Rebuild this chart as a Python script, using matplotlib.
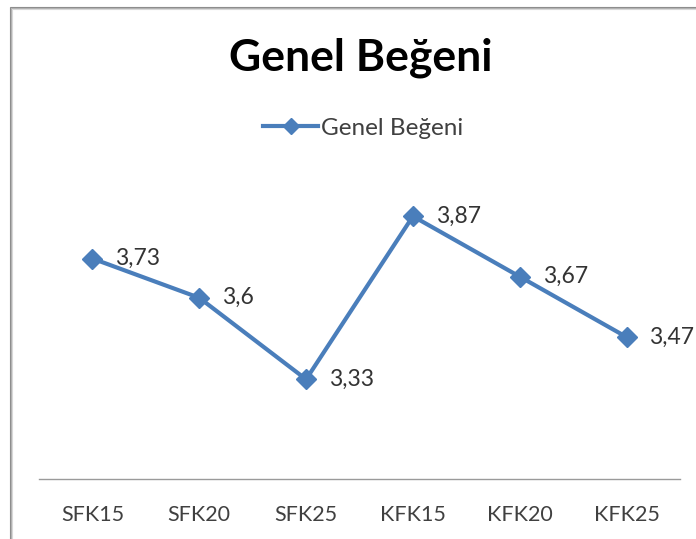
import matplotlib
matplotlib.use("Agg")
import matplotlib.pyplot as plt
from matplotlib.patches import Rectangle
from matplotlib.lines import Line2D

categories = ["SFK15", "SFK20", "SFK25", "KFK15", "KFK20", "KFK25"]
values = [3.73, 3.6, 3.33, 3.87, 3.67, 3.47]
labels = ["3,73", "3,6", "3,33", "3,87", "3,67", "3,47"]
series_name = "Genel Beğeni"
title = "Genel Beğeni"

plt.rcParams['font.family'] = ['Lato', 'DejaVu Sans']

W, H = 696, 539
fig = plt.figure(figsize=(W / 100, H / 100), dpi=100)
fig.patch.set_facecolor("white")

# chart frame (left and top edges visible)
for i, c in enumerate(["#8c8c8c", "#b0b0b0", "#d8d8d8"]):
    fig.add_artist(Rectangle(((10 + i) / W, -0.1), 1.2, 1.1 - (7 + i) / H,
                             transform=fig.transFigure, fill=False,
                             edgecolor=c, linewidth=0.8, zorder=0))

ax = fig.add_axes([39 / W, 60 / H, 641 / W, 302 / H])
ax.set_xlim(-0.5, 5.5)
ax.set_ylim(3.0, 4.0)
ax.set_facecolor("none")

blue = "#4a7ebb"
x = list(range(len(categories)))
ax.plot(x, values, color=blue, linewidth=3.0, marker="D", markersize=10,
        markerfacecolor=blue, markeredgecolor=blue, solid_joinstyle="round")

for xi, v, lab in zip(x, values, labels):
    ax.annotate(lab, (xi, v), xytext=(16.5, 0), textcoords="offset points",
                ha="left", va="center", fontsize=16.5, color="#333333",
                annotation_clip=False)

for s in ["top", "right", "left"]:
    ax.spines[s].set_visible(False)
ax.spines["bottom"].set_color("#9a9a9a")
ax.spines["bottom"].set_linewidth(1.0)
ax.set_yticks([])
ax.set_xticks(x)
ax.set_xticklabels(categories, fontsize=15.5, color="#404040")
ax.tick_params(axis="x", length=0, pad=19)

fig.text(361 / W, 1 - 58 / H, title, ha="center", va="center",
         fontsize=32, fontweight="bold", color="black")

handle = Line2D([], [], color=blue, linewidth=3.0, marker="D", markersize=8)
fig.legend([handle], [series_name], loc="center", bbox_to_anchor=(363 / W, 1 - 128 / H),
           frameon=False, fontsize=17.5, handlelength=2.26, handletextpad=0.1,
           labelcolor="#404040", borderpad=0, borderaxespad=0)

fig.savefig("out.png", dpi=100)
